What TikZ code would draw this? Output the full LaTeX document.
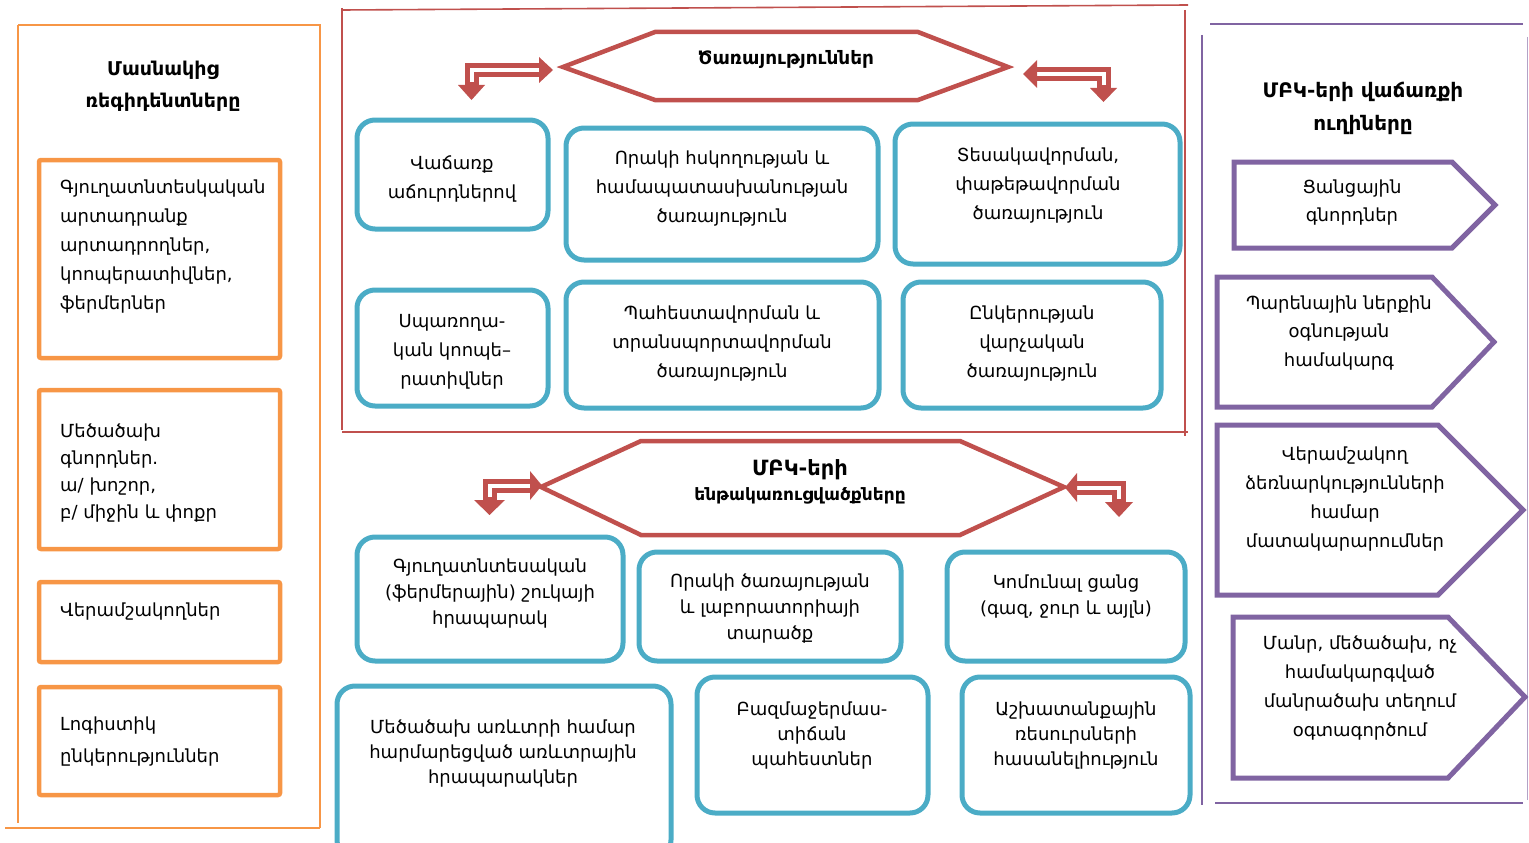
\documentclass[tikz,border=0pt]{standalone}
\usepackage{fontspec}
\setmainfont{DejaVu Sans}
\definecolor{orng}{HTML}{F79646}
\definecolor{blu}{HTML}{4BACC6}
\definecolor{redc}{HTML}{C0504D}
\definecolor{purp}{HTML}{8064A2}
\tikzset{
  obox/.style={draw=orng, line width=4.5pt, rounded corners=2pt, inner sep=0pt},
  bbox/.style={draw=blu, line width=5pt, rounded corners=18pt, inner sep=0pt},
  pshape/.style={draw=purp, line width=5pt, line join=miter},
  hexa/.style={draw=redc, line width=4.5pt, line join=miter},
  ofr/.style={draw=orng, line width=2pt},
  rfr/.style={draw=redc, line width=1.6pt},
  pfr/.style={draw=purp, line width=2pt},
  txt/.style={align=center, inner sep=0pt, font=\fontsize{18}{29}\selectfont},
  txtb/.style={align=center, inner sep=0pt, font=\fontsize{18}{26}\selectfont},
  ltxt/.style={align=left, inner sep=0pt, anchor=west, font=\fontsize{18}{29}\selectfont},
  ttl/.style={align=center, inner sep=0pt, font=\bfseries\fontsize{19}{32}\selectfont},
  shaft/.style={draw=redc, line width=14pt, line join=miter},
  core/.style={draw=white, line width=4pt},
  head/.style={fill=redc},
}
\begin{document}
\begin{tikzpicture}[x=1pt,y=-1pt]
\useasboundingbox (0,0) rectangle (1529,843);

% ---------- left panel ----------
\draw[ofr] (18,25) -- (320,25) -- (320,828);
\draw[ofr] (5,828) -- (320,828);
\draw[ofr] (18,25) -- (18,823);
\node[ttl] (lt) at (163,86) {Մասնակից\\ռեգիդենտները};

\node[obox, minimum width=241pt, minimum height=198pt] (o1) at (159.5,259) {};
\node[ltxt] (o1t) at (60,247) {Գյուղատնտեսկական\\արտադրանք\\արտադրողներ,\\կոոպերատիվներ,\\ֆերմերներ};
\node[obox, minimum width=241pt, minimum height=159pt] (o2) at (159.5,469.5) {};
\node[ltxt, font=\fontsize{18}{27.3}\selectfont] (o2t) at (60,473) {Մեծածախ\\գնորդներ.\\ա/ խոշոր,\\բ/ միջին և փոքր};
\node[obox, minimum width=241pt, minimum height=80pt] (o3) at (159.5,622) {};
\node[ltxt] (o3t) at (60,612) {Վերամշակողներ};
\node[obox, minimum width=241pt, minimum height=108pt] (o4) at (159.5,741) {};
\node[ltxt, font=\fontsize{18}{32}\selectfont] (o4t) at (60,742) {Լոգիստիկ\\ընկերություններ};

% ---------- red frame ----------
\draw[rfr] (342,10) -- (1188,5);
\draw[rfr] (342,8) -- (342,430);
\draw[rfr] (342,432) -- (1188,432);
\draw[rfr] (1185,10) -- (1185,436);

% hexagon 1
\coordinate (h1l) at (563,67);
\coordinate (h1r) at (1008,67);
\draw[hexa] (h1l) -- (655,32) -- (918,32) -- (h1r) -- (918,100) -- (655,100) -- cycle;
\node[ttl, font=\bfseries\fontsize{18.5}{20}\selectfont] (h1t) at (786,59) {Ծառայություններ};

% top-left bent arrow
\coordinate (a1h) at (539,70);
\coordinate (a1v) at (471.5,85);
\draw[shaft] (a1h) -| (a1v);
\draw[core] ([xshift=3pt]a1h) -| ([yshift=3pt]a1v);
\fill[head] (539,57) -- (553,70) -- (539,83) -- cycle;
\fill[head] (458,85) -- (471.5,100) -- (485,85) -- cycle;
% top-right bent arrow
\coordinate (a2h) at (1037,74);
\coordinate (a2v) at (1103.5,88);
\draw[shaft] (a2h) -| (a2v);
\draw[core] ([xshift=-3pt]a2h) -| ([yshift=3pt]a2v);
\fill[head] (1037,60) -- (1023,74) -- (1037,88) -- cycle;
\fill[head] (1090,88) -- (1103.5,102) -- (1117,88) -- cycle;

% blue boxes top
\node[bbox, minimum width=191pt, minimum height=109pt] (b1) at (452.5,174.5) {};
\node[txt] (b1t) at (452,179) {Վաճառք\\աճուրդներով};
\node[bbox, minimum width=312pt, minimum height=132pt] (b2) at (722,194) {};
\node[txt] (b2t) at (722,189) {Որակի հսկողության և\\համապատասխանության\\ծառայություն};
\node[bbox, minimum width=285pt, minimum height=140pt] (b3) at (1037.5,194) {};
\node[txt] (b3t) at (1038,186) {Տեսակավորման,\\փաթեթավորման\\ծառայություն};
\node[bbox, minimum width=191pt, minimum height=116pt] (b4) at (452.5,348) {};
\node[txt] (b4t) at (452,352) {Սպառողա-\\կան կոոպե–\\րատիվներ};
\node[bbox, minimum width=313pt, minimum height=126pt] (b5) at (722.5,345) {};
\node[txt] (b5t) at (722,344) {Պահեստավորման և\\տրանսպորտավորման\\ծառայություն};
\node[bbox, minimum width=258pt, minimum height=126pt] (b6) at (1032,345) {};
\node[txt] (b6t) at (1032,344) {Ընկերության\\վարչական\\ծառայություն};

% hexagon 2
\coordinate (h2l) at (541,487);
\coordinate (h2r) at (1064,487);
\draw[hexa] (h2l) -- (641,441) -- (960,441) -- (h2r) -- (960,535) -- (641,535) -- cycle;
\node[ttl, font=\bfseries\fontsize{21}{20}\selectfont] (h2t1) at (800,470) {ՄԲԿ-երի};
\node[ttl, font=\bfseries\fontsize{17}{20}\selectfont] (h2t2) at (800,496) {ենթակառուցվածքները};

% bottom-left bent arrow
\coordinate (a3h) at (530,485.5);
\coordinate (a3v) at (489.5,500);
\draw[shaft] (a3h) -| (a3v);
\draw[core] ([xshift=3pt]a3h) -| ([yshift=3pt]a3v);
\fill[head] (530,471) -- (542,485.5) -- (530,500) -- cycle;
\fill[head] (474,500) -- (489.5,515) -- (505,500) -- cycle;
% bottom-right bent arrow
\coordinate (a4h) at (1077,487.5);
\coordinate (a4v) at (1119,502);
\draw[shaft] (a4h) -| (a4v);
\draw[core] ([xshift=-3pt]a4h) -| ([yshift=3pt]a4v);
\fill[head] (1077,473) -- (1065,487.5) -- (1077,502) -- cycle;
\fill[head] (1105,502) -- (1119,517) -- (1133,502) -- cycle;

% blue boxes bottom
\node[bbox, minimum width=266pt, minimum height=124pt] (c1) at (490,599) {};
\node[txtb] (c1t) at (490,594) {Գյուղատնտեսական\\(ֆերմերային) շուկայի\\հրապարակ};
\node[bbox, minimum width=262pt, minimum height=109pt] (c2) at (770,606.5) {};
\node[txtb] (c2t) at (770,609) {Որակի ծառայության\\և լաբորատորիայի\\տարածք};
\node[bbox, minimum width=238pt, minimum height=109pt] (c3) at (1066,606.5) {};
\node[txtb] (c3t) at (1066,597) {Կոմունալ ցանց\\(գազ, ջուր և այլն)};
\node[bbox, minimum width=334pt, minimum height=172pt] (d1) at (504,772) {};
\node[txtb, font=\fontsize{18}{25}\selectfont] (d1t) at (503,754) {Մեծածախ առևտրի համար\\հարմարեցված առևտրային\\հրապարակներ};
\node[bbox, minimum width=231pt, minimum height=136pt] (d2) at (812.5,745) {};
\node[txtb, font=\fontsize{18}{25}\selectfont] (d2t) at (812,736) {Բազմաջերմաս-\\տիճան\\պահեստներ};
\node[bbox, minimum width=228pt, minimum height=136pt] (d3) at (1076,745) {};
\node[txtb, font=\fontsize{18}{25}\selectfont] (d3t) at (1076,736) {Աշխատանքային\\ռեսուրսների\\հասանելիություն};

% ---------- right panel ----------
\draw[pfr] (1210,24) -- (1523,24);
\draw[pfr] (1202,35) -- (1202,805);
\draw[pfr] (1215,803) -- (1523,803);
\draw[purp!60, line width=1pt] (1527,37) -- (1527,800);
\node[ttl, font=\bfseries\fontsize{20}{33}\selectfont] (rt) at (1363,108.5) {ՄԲԿ-երի վաճառքի\\ուղիները};

\draw[pshape] (1234,162) -- (1452,162) -- (1495,205) -- (1452,248) -- (1234,248) -- cycle;
\node[txt, font=\fontsize{18}{28}\selectfont] (p1t) at (1352,203) {Ցանցային\\գնորդներ};
\draw[pshape] (1217,277) -- (1432,277) -- (1494,342) -- (1432,407) -- (1217,407) -- cycle;
\node[txt, font=\fontsize{18}{28.5}\selectfont] (p2t) at (1339,333) {Պարենային ներքին\\օգնության\\համակարգ};
\draw[pshape] (1217,425) -- (1438,425) -- (1523,510) -- (1438,595) -- (1217,595) -- cycle;
\node[txt] (p3t) at (1345,499) {Վերամշակող\\ձեռնարկությունների\\համար\\մատակարարումներ};
\draw[pshape] (1233,617) -- (1448,617) -- (1525,697) -- (1448,778) -- (1233,778) -- cycle;
\node[txt, font=\fontsize{18}{28.7}\selectfont] (p4t) at (1360,688) {Մանր, մեծածախ, ոչ\\համակարգված\\մանրածախ տեղում\\օգտագործում};
\end{tikzpicture}
\end{document}
